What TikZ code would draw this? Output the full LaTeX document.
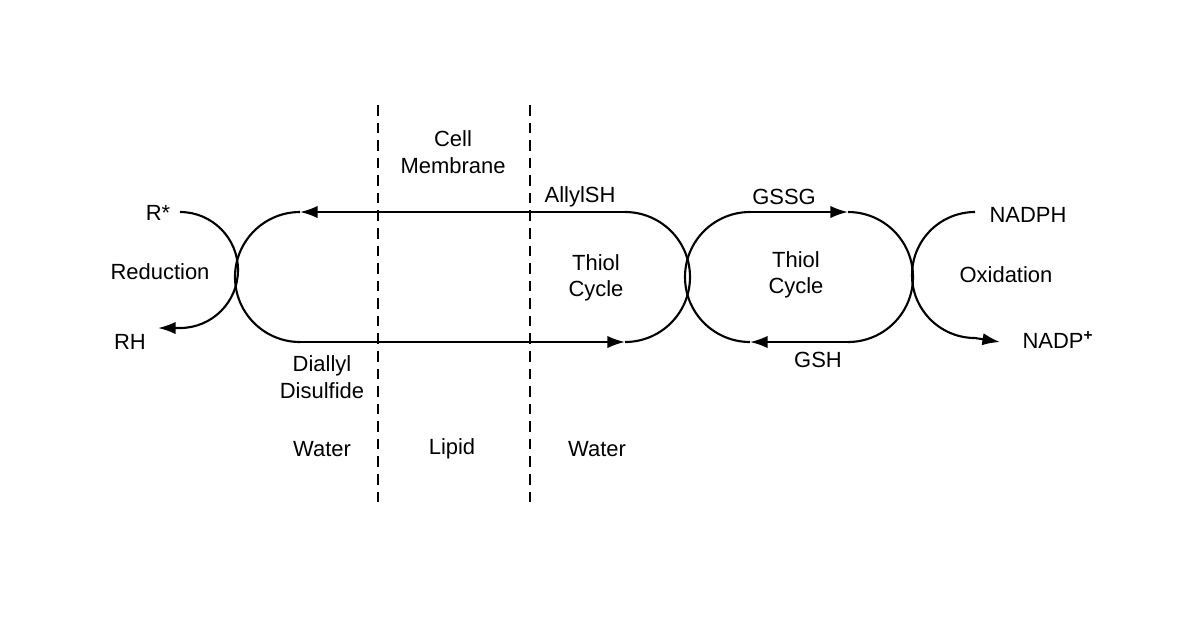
\documentclass[tikz,border=0pt]{standalone}
\usepackage{fontspec}
\setmainfont{Liberation Sans}
\usetikzlibrary{arrows.meta}
\begin{document}
\begin{tikzpicture}[x=0.02cm,y=-0.02cm,
  ln/.style={line width=1.2pt},
  ar/.style={ln,-{Latex[length=10pt,width=7pt]}},
  dsh/.style={line width=0.9pt,dash pattern=on 6pt off 4pt},
  lb/.style={font=\fontsize{12.5}{15}\selectfont,align=center,inner sep=1pt}]
\useasboundingbox (0,0) rectangle (1200,630);
% coordinates
\coordinate (l1) at (300,212); \coordinate (l2) at (300,342);
\coordinate (r1) at (625,212); \coordinate (r2) at (625,342);
\coordinate (g1) at (750,212); \coordinate (g2) at (750,342);
\coordinate (h1) at (848,212); \coordinate (h2) at (848,342);
\coordinate (rs) at (180,212);
\coordinate (np) at (975,212); \coordinate (nq) at (1000,342);
\coordinate (d1) at (378,105); \coordinate (d2) at (378,505);
\coordinate (e1) at (530,105); \coordinate (e2) at (530,505);
% dashed membrane
\draw[dsh] (d1) -- (d2);
\draw[dsh] (e1) -- (e2);
% first loop
\draw[ar] (r1) -- (l1);
\draw[ln] (l1) arc[start angle=270,end angle=90,radius=65];
\draw[ar] (l2) -- (r2);
\draw[ln] (r1) arc[start angle=-90,end angle=90,radius=65];
% second loop
\draw[ar] (g1) -- (h1);
\draw[ln] (h1) arc[start angle=-90,end angle=90,radius=65];
\draw[ar] (h2) -- (g2);
\draw[ln] (g1) arc[start angle=270,end angle=90,radius=65];
% reduction
\draw[ln] (rs) arc[start angle=-90,end angle=0,radius=58] coordinate (rm);
\draw[ar] (rm) arc[start angle=0,end angle=90,radius=58] -- ++(-22,0);
% oxidation
\draw[ln] (np) arc[start angle=-90,end angle=-180,radius=63] coordinate (om);
\draw[ar] (om) arc[start angle=-180,end angle=-270,radius=63] -- (nq);
% labels
\node[lb] (t1) at (158,213) {R*};
\node[lb] (t2) at (130,342) {RH};
\node[lb] (t3) at (160,272) {Reduction};
\node[lb] (t4) at (453,152) {Cell\\Membrane};
\node[lb] (t5) at (580,197) {AllylSH};
\node[lb] (t6) at (596,278) {Thiol\\Cycle};
\node[lb] (t7) at (784,197) {GSSG};
\node[lb] (t8) at (796,275) {Thiol\\Cycle};
\node[lb] (t9) at (1028,215) {NADPH};
\node[lb] (t10) at (1006,275) {Oxidation};
\node[lb] (t11) at (1058,340) {NADP\textsuperscript{\textbf{+}}};
\node[lb] (t12) at (818,360) {GSH};
\node[lb] (t13) at (322,377) {Diallyl\\Disulfide};
\node[lb] (t14) at (322,449) {Water};
\node[lb] (t15) at (452,449) {Lipid};
\node[lb] (t16) at (597,449) {Water};
\end{tikzpicture}
\end{document}
